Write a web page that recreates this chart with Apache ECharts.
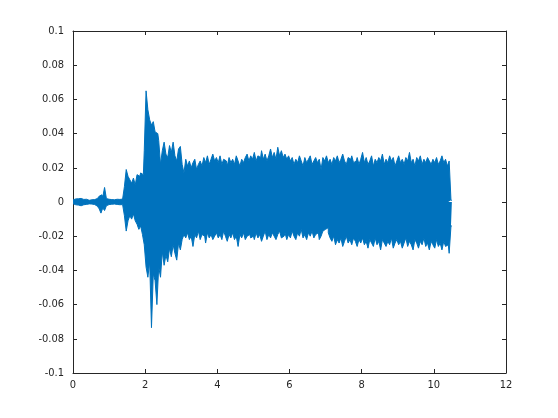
<!DOCTYPE html>
<html>
<head>
<meta charset="utf-8">
<script src="https://cdn.jsdelivr.net/npm/echarts@6/dist/echarts.min.js"></script>
<style>html,body{margin:0;padding:0;background:#fff}#c{width:558px;height:418px}</style>
</head>
<body>
<div id="c"></div>
<script>
// Waveform envelope, one sample every 0.05 s from t = 0 to 10.5 s
// values in thousandths (x 0.001)
var sampleStart = 0;
var sampleStep = 0.05;
var upperMilli = [
  1.2,1.8,2.0,1.9,2.1,1.7,1.5,1.6,1.2,1.0, 1.3,1.1,1.4,2.0,2.6,3.4,4.2,3.0,8.5,2.0,
  1.6,1.4,1.5,1.3,1.6,1.4,1.5,1.7,2.5,9.0, 19,15,13,11,14,10,16,15,17,16,
  30,65,54,48,45,47,41,40,36,22, 30,35,28,26,33,29,35,27,24,31,
  32.5,22,17,25,21,24,20,23,25,19, 22,24,21,26,23,27,22,25,28,24,
  26,23,27,22,25,24,21,26,23,25, 22,27,24,21,25,23,26,28,24,27,
  25,29,24,27,26,30,25,28,24,27, 31,26,29,25,32,27,30,26,28,25,
  27,24,26,22,25,23,27,24,21,26, 23,25,27,22,24,26,23,25,19,26,
  24,27,23,25,22,26,24,27,23,25, 28,24,22,26,25,27,23,24,26,22,
  25,29,23,26,22,24,27,21,25,23, 26,24,28,22,25,23,27,24,26,21,
  24,27,23,25,22,26,24,29,23,25, 21,26,24,27,22,25,23,26,24,22,
  25,23,26,22,24,27,23,25,21,24, 1.0
];
var lowerMilli = [
  -1.0,-1.6,-2.0,-1.8,-2.2,-1.9,-1.6,-1.4,-1.3,-1.1, -1.2,-1.0,-1.5,-2.4,-3.0,-4.0,-6.5,-3.5,-5.0,-2.2,
  -1.5,-1.3,-1.6,-1.2,-1.4,-1.5,-1.6,-1.5,-2.5,-8.0, -17,-11,-8,-10,-7,-11,-13,-16,-14,-19,
  -25,-38,-44,-35,-73.5,-42,-46,-60,-38,-44, -29,-37,-31,-35,-27,-32,-25,-30,-34,-24,
  -28,-22,-19,-21,-18,-22,-20,-26,-19,-21, -17,-22,-19,-20,-24,-18,-21,-19,-22,-20,
  -18,-21,-19,-22,-17,-20,-23,-19,-21,-18, -22,-20,-26,-19,-21,-18,-22,-20,-19,-21,
  -20,-22,-18,-21,-19,-23,-20,-17,-22,-19, -21,-18,-20,-22,-19,-17,-21,-20,-18,-22,
  -19,-21,-17,-20,-22,-18,-20,-16,-21,-19, -22,-18,-20,-17,-21,-19,-18,-22,-20,-17,
  -16,-15,-18,-21,-23,-20,-25,-22,-24,-21, -26,-23,-20,-24,-22,-25,-21,-23,-26,-22,
  -24,-21,-25,-23,-27,-22,-24,-26,-21,-25, -23,-28,-22,-24,-26,-23,-25,-21,-27,-24,
  -22,-25,-23,-27,-24,-21,-26,-23,-25,-28, -22,-24,-27,-23,-25,-21,-26,-24,-28,-23,
  -25,-27,-22,-26,-24,-28,-23,-26,-25,-30, -14
];
var xTicks = {min: 0, max: 12, interval: 2};
var yTicks = {min: -0.1, max: 0.1, interval: 0.02};

var upperData = upperMilli.map(function (v, i) { return [+(sampleStart + i * sampleStep).toFixed(2), v / 1000]; });
var lowerData = lowerMilli.map(function (v, i) { return [+(sampleStart + i * sampleStep).toFixed(2), v / 1000]; });

var axisColor = '#262626';
var waveColor = '#0072BD';
var font = "'Liberation Sans Narrow','DejaVu Sans Condensed','Liberation Sans',sans-serif";
function axisBase(extra) {
  var a = {
    type: 'value',
    splitLine: {show: false},
    axisLine: {show: true, onZero: false, lineStyle: {color: axisColor, width: 1}},
    axisTick: {show: true, inside: true, length: 4, lineStyle: {color: axisColor}},
    axisLabel: {color: axisColor, fontFamily: font, fontSize: 11}
  };
  for (var k in extra) a[k] = extra[k];
  return a;
}
function waveSeries(data) {
  return {
    type: 'line', xAxisIndex: 0, yAxisIndex: 0, data: data,
    step: 'middle', showSymbol: false, symbol: 'none', silent: true,
    lineStyle: {color: waveColor, width: 1},
    areaStyle: {color: waveColor, opacity: 1, origin: 0},
    itemStyle: {color: waveColor}, z: 2
  };
}
var chart = echarts.init(document.getElementById('c'), null, {renderer: 'canvas'});
chart.setOption({
  animation: false,
  backgroundColor: '#fff',
  grid: {left: 73, right: 52, top: 31, bottom: 45, containLabel: false},
  xAxis: [
    axisBase({position: 'bottom', min: xTicks.min, max: xTicks.max, interval: xTicks.interval,
      axisLabel: {color: axisColor, fontFamily: font, fontSize: 11, margin: 7}}),
    axisBase({position: 'top', min: xTicks.min, max: xTicks.max, interval: xTicks.interval,
      axisLabel: {show: false}})
  ],
  yAxis: [
    axisBase({position: 'left', min: yTicks.min, max: yTicks.max, interval: yTicks.interval,
      axisLabel: {color: axisColor, fontFamily: font, fontSize: 11, margin: 9}}),
    axisBase({position: 'right', min: yTicks.min, max: yTicks.max, interval: yTicks.interval,
      axisLabel: {show: false}})
  ],
  series: [waveSeries(upperData), waveSeries(lowerData)]
});
</script>
</body>
</html>
